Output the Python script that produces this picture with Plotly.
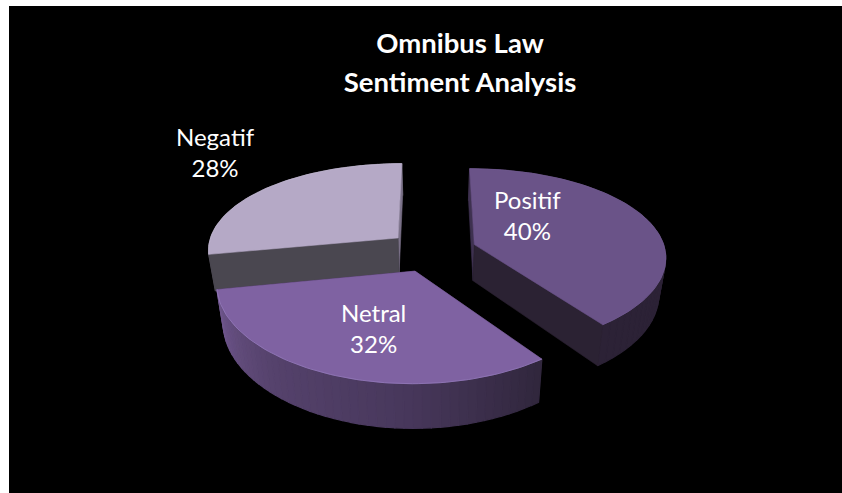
import math
import plotly.graph_objects as go

categories = ["Positif", "Netral", "Negatif"]
shares = [40, 32, 28]
title_lines = ["Omnibus Law", "Sentiment Analysis"]

top_colors = ["#6A5388", "#7F62A2", "#B5A9C6"]
rim_colors = ["#715B90", "#937ABA", "#C2B7D2"]
first_wall_colors = ["#3E3150", "#2B2233", "#4A4750"]
last_wall_colors = ["#2B2233", "#2B2233", "#7A7188"]
outer_ramps = [
    [(44, 34, 54), (44, 34, 54)],
    [(48, 38, 60), (72, 56, 92), (85, 66, 108), (112, 87, 141)],
    [(74, 71, 80), (74, 71, 80)],
]
label_pos = [(527, 215), (373, 328), (215, 152)]

W, H = 842, 493
CX, CY, SX, SY, SZ = 432, 251, 191, 89, 36.5
KX, KY, EXPLODE, BOTTOM_NARROW = 0.125, 0.15, 0.235, 0.97


def project(X, Y, Z=0.0):
    fx = 1 / (1 + KX * Y)
    fy = 1 / (1 + KY * Y)
    narrow = BOTTOM_NARROW if Z < 0 else 1.0
    return CX + SX * X * fx * narrow, CY - SY * Y * fy - SZ * Z * fy


def lerp_ramp(ramp, t):
    p = t * (len(ramp) - 1)
    i = min(int(p), len(ramp) - 2)
    a = p - i
    c = [round(ramp[i][k] * (1 - a) + ramp[i + 1][k] * a) for k in range(3)]
    return f"rgb({c[0]},{c[1]},{c[2]})"


def poly(points, color, line=0.6):
    xs = [p[0] for p in points] + [points[0][0]]
    ys = [p[1] for p in points] + [points[0][1]]
    return go.Scatter(x=xs, y=ys, mode="lines", fill="toself", fillcolor=color,
                      line=dict(color=color, width=line), hoverinfo="skip",
                      showlegend=False)


fig = go.Figure()
total = sum(shares)
bounds = []
acc = 0
for s in shares:
    bounds.append((acc / total * 2 * math.pi, (acc + s) / total * 2 * math.pi))
    acc += s

for idx in [2, 0, 1]:
    a0, a1 = bounds[idx]
    mid = (a0 + a1) / 2
    ox, oy = EXPLODE * math.sin(mid), EXPLODE * math.cos(mid)
    P = lambda a, z=0.0, r=1.0: project(ox + r * math.sin(a), oy + r * math.cos(a), z)
    apex = project(ox, oy)
    apex_b = project(ox, oy, -1)

    outer = []
    n = 48
    for i in range(n):
        t0, t1 = i / n, (i + 1) / n
        b0, b1 = a0 + (a1 - a0) * t0, a0 + (a1 - a0) * t1
        outer.append(poly([P(b0), P(b1), P(b1, -1), P(b0, -1)],
                          lerp_ramp(outer_ramps[idx], (t0 + t1) / 2), line=1.2))
    walls = [(a0, first_wall_colors[idx]), (a1, last_wall_colors[idx])]
    walls.sort(key=lambda w: math.cos(w[0]), reverse=True)
    cuts = [poly([apex, P(ang), P(ang, -1), apex_b], col) for ang, col in walls]

    # a slice pointing at the viewer hides its cuts behind the curved wall
    order = cuts + outer if math.cos(mid) < 0 else outer + cuts
    fig.add_traces(order)

    arc = [P(a0 + (a1 - a0) * i / 80) for i in range(81)]
    fig.add_trace(poly([apex] + arc, top_colors[idx]))
    fig.add_trace(go.Scatter(x=[p[0] for p in arc], y=[p[1] for p in arc], mode="lines",
                             line=dict(color=rim_colors[idx], width=0.8),
                             hoverinfo="skip", showlegend=False))

annotations = []
for name, val, (lx, ly) in zip(categories, shares, label_pos):
    annotations.append(dict(x=lx, y=ly, xref="x", yref="y", showarrow=False,
                            text=f"{name}<br>{round(val / total * 100)}%",
                            font=dict(family="Lato, Carlito, sans-serif", size=24, color="white")))

title_text = "<br>".join(f'<span style="font-size:27.5px"><b>{t}</b></span>' for t in title_lines)
fig.update_layout(
    width=W, height=H,
    margin=dict(l=9, r=0, t=6, b=0),
    paper_bgcolor="white", plot_bgcolor="black",
    title=dict(text=title_text, x=460 / W, xanchor="center", y=1 - 53 / H, yanchor="top",
               font=dict(family="Lato, Carlito, sans-serif", size=30, color="white")),
    xaxis=dict(range=[9, W], visible=False, fixedrange=True),
    yaxis=dict(range=[H, 6], visible=False, fixedrange=True),
    annotations=annotations,
    showlegend=False,
)
fig.write_html("out.html", config=dict(displayModeBar=False),
               post_script="document.body.style.margin='0';document.body.style.overflow='hidden';")
